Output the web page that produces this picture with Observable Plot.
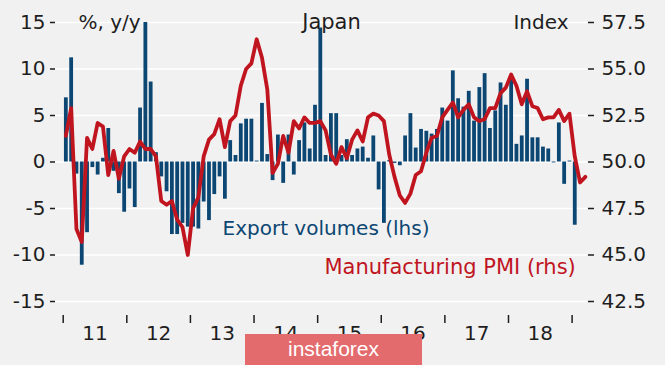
<!DOCTYPE html>
<html><head><meta charset="utf-8">
<script src="https://cdn.jsdelivr.net/npm/d3@7"></script>
<script src="https://cdn.jsdelivr.net/npm/@observablehq/plot@0.6"></script>
<style>
html,body{margin:0;padding:0;background:#f1f1f1;}
#wrap{position:relative;width:665px;height:365px;overflow:hidden;background:#f1f1f1;}
#wrap svg{display:block;}
#wm{position:absolute;left:245px;top:334px;width:177px;height:31px;background:#e36b6d;color:#fff;font:21px "Liberation Sans Narrow","Liberation Sans",sans-serif;text-align:center;line-height:30px;}
</style></head><body><div id="wrap"><div id="wm">instaforex</div></div>
<script>
const startYear = 2011;
// Japan export volumes, % y/y (lhs), monthly from Jan 2011
const exportVolumes = [
  6.9, 11.2, -1.3, -11.1, -7.6, -0.6, -1.4, 0.4, 3.6, -1.0, -3.4, -5.4,
  -2.9, -4.9, 5.8, 15.0, 8.6, 1.0, -1.6, -3.2, -7.8, -7.8, -6.6, -7.0,
  -7.0, -7.2, -4.3, -6.3, -3.5, -1.6, -4.0, 2.3, 0.7, 4.1, 4.6, 4.6,
  0.1, 6.3, 0.8, -2.0, 2.9, -2.3, 2.9, -1.4, 2.3, 4.2, 1.4, 6.1,
  14.4, 0.7, 5.2, 5.2, 0.7, 2.4, 0.7, 1.4, 1.6, 0.4, 2.8, -3.0,
  -6.6, 0.15, -0.15, -0.4, 2.8, 5.2, 1.5, 3.5, 3.3, 3.0, 3.5, 5.8,
  4.4, 9.8, 6.8, 5.9, 7.6, 4.4, 8.0, 9.5, 3.6, 5.5, 8.5, 6.1,
  9.3, 1.9, 2.8, 8.9, 2.6, 2.6, 1.6, 1.4, -0.1, 4.2, -2.4, 0.1,
  -6.8
];
// Manufacturing PMI (rhs), monthly from Jan 2011
const pmi = [
  51.4, 52.9, 46.4, 45.7, 51.3, 50.7, 52.1, 51.9, 49.3, 50.6, 49.1, 50.3,
  50.7, 50.5, 51.1, 50.7, 50.7, 50.3, 47.9, 47.7, 47.9, 46.9, 46.5, 45.0,
  47.5, 48.1, 50.3, 51.2, 51.5, 52.3, 50.8, 52.2, 52.5, 54.1, 55.0, 55.3,
  56.6, 55.6, 53.9, 49.4, 49.9, 51.4, 50.5, 52.2, 51.8, 52.4, 52.1, 52.1,
  52.2, 51.7, 50.4, 49.9, 50.8, 50.2, 51.2, 51.7, 51.1, 52.4, 52.6, 52.5,
  52.2, 50.4, 49.2, 48.2, 47.8, 48.3, 49.3, 49.5, 50.5, 51.3, 51.4, 52.4,
  52.8, 53.2, 52.4, 52.8, 53.1, 52.4, 52.2, 52.3, 52.9, 52.9, 53.7, 54.0,
  54.7, 54.1, 53.1, 53.8, 53.0, 52.9, 52.3, 52.4, 52.4, 52.8, 52.2, 52.6,
  50.3, 48.9, 49.2
];
const yearTicks = [2011, 2012, 2013, 2014, 2015, 2016, 2017, 2018, 2019];
const yearLabels = ["11", "12", "13", "14", "15", "16", "17", "18"];
const leftTicks = [-15, -10, -5, 0, 5, 10, 15];
const rightTickLabels = ["42.5", "45.0", "47.5", "50.0", "52.5", "55.0", "57.5"];
const pmiCentre = 50, pmiPerLeftUnit = 0.5;

const NAVY = "#0c4672";
const RED = "#c0151f";

const monthT = i => startYear + (i + 0.5) / 12;
const bars = exportVolumes.map((v, i) => ({t: monthT(i), v}));
const pmiLine = pmi.map((p, i) => ({t: monthT(i), y: (p - pmiCentre) / pmiPerLeftUnit}));
const labelRows = yearLabels.map((s, i) => ({t: yearTicks[i] + 0.5, s}));

const chart = Plot.plot({
  width: 665, height: 365,
  marginLeft: 55, marginRight: 78, marginTop: 22, marginBottom: 64,
  x: {domain: [2010.879, 2019.242]},
  y: {domain: [-15, 15]},
  style: {background: "transparent", fontFamily: "'DejaVu Sans', sans-serif", fontSize: "20px", color: "#1e1e1e"},
  marks: [
    Plot.gridY(leftTicks, {stroke: "#ffffff", strokeOpacity: 1, strokeWidth: 1.6}),
    Plot.ruleX(bars, {x: "t", y1: 0, y2: "v", stroke: NAVY, strokeWidth: 3.8}),
    Plot.line(pmiLine, {x: "t", y: "y", stroke: RED, strokeWidth: 3.8, strokeLinejoin: "round"}),
    Plot.axisY(leftTicks, {anchor: "left", tickSize: 5, tickPadding: 5, strokeWidth: 1.5, tickFormat: d => String(d), label: null}),
    Plot.axisY(leftTicks, {anchor: "right", tickSize: 6, tickPadding: 8, strokeWidth: 1.5, tickFormat: d => rightTickLabels[leftTicks.indexOf(d)], label: null}),
    Plot.axisX(yearTicks, {tickSize: 8, strokeWidth: 1.5, tickFormat: () => "", dy: 14, label: null}),
    Plot.text(labelRows, {x: "t", text: "s", frameAnchor: "bottom", dy: 38, fill: "#1e1e1e"}),
    Plot.text(["%, y/y"], {frameAnchor: "top-left", dx: 23, textAnchor: "start", lineAnchor: "middle", fill: "#1e1e1e"}),
    Plot.text(["Japan"], {frameAnchor: "top-left", dx: 276, textAnchor: "middle", lineAnchor: "middle", fill: "#1e1e1e", fontSize: 21}),
    Plot.text(["Index"], {frameAnchor: "top-left", dx: 513, textAnchor: "end", lineAnchor: "middle", fill: "#1e1e1e"}),
    Plot.text(["Export volumes (lhs)"], {frameAnchor: "top-left", dx: 167, dy: 206.5, textAnchor: "start", lineAnchor: "middle", fill: NAVY, fontWeight: 500}),
    Plot.text(["Manufacturing PMI (rhs)"], {frameAnchor: "top-left", dx: 269, dy: 244.5, textAnchor: "start", lineAnchor: "middle", fill: RED, fontSize: 21, letterSpacing: "0.4px"})
  ]
});
const wrap = document.getElementById("wrap");
wrap.insertBefore(chart, wrap.firstChild);
</script>
</body></html>
